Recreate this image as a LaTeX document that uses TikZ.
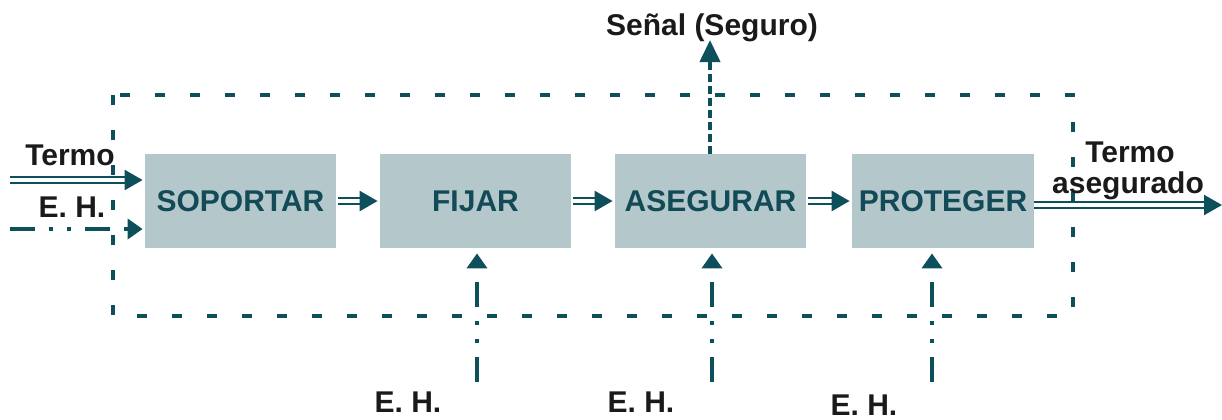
\documentclass[tikz,border=0pt]{standalone}
\usepackage{fontspec}
\setmainfont{Liberation Sans}
\usetikzlibrary{arrows.meta}
\definecolor{teal1}{HTML}{0D4F5A}
\definecolor{boxfill}{HTML}{B4C8CC}
\definecolor{boxtext}{HTML}{124B57}
\definecolor{lbltext}{HTML}{1A1A1A}
\begin{document}
\begin{tikzpicture}[x=0.5pt,y=-0.5pt,
 box/.style={fill=boxfill, draw=none, minimum height=47pt, minimum width=95.5pt, inner sep=0pt, font=\fontsize{15}{18}\selectfont\bfseries, text=boxtext},
 lbl/.style={font=\fontsize{15}{18}\selectfont\bfseries, text=lbltext, anchor=base, inner sep=0pt},
 dbl/.style={draw=teal1, double=white, double distance=1.8pt, line width=1.2pt, -{Triangle[length=9pt,width=10pt]}},
 ehline/.style={draw=teal1, line width=2pt, line cap=butt, dash pattern=on 12.5pt off 7pt on 2pt off 7pt on 2pt off 7pt, -{Triangle[length=7.5pt,width=10pt]}},
 sig/.style={draw=teal1, line width=2pt, dash pattern=on 4pt off 2pt, -{Triangle[length=11pt,width=10pt]}},
 frame/.style={draw=teal1, line width=2.2pt, dash pattern=on 5pt off 12.5pt}]
\useasboundingbox (0,0) rectangle (1222,419);
\draw[frame] (113,95) rectangle (1073,316);
% boxes
\node[box] (sop) at (240.5,201) {SOPORTAR};
\node[box] (fij) at (475.5,201) {FIJAR};
\node[box] (ase) at (710.5,201) {ASEGURAR};
\node[box, minimum width=91pt] (pro) at (943,201) {PROTEGER};
% between boxes
\draw[dbl, shorten <=1pt, shorten >=1pt] (sop.east) -- (fij.west);
\draw[dbl, shorten <=1pt, shorten >=1pt] (fij.east) -- (ase.west);
\draw[dbl, shorten <=1pt, shorten >=1pt] (ase.east) -- (pro.west);
% inputs
\coordinate (tin) at (10,180);
\coordinate (ehin) at (10,229);
\draw[dbl, shorten >=1pt] (tin) -- (tin -| sop.west);
\draw[ehline, shorten >=1pt] (ehin) -- (ehin -| sop.west);
\node[lbl] (ltermo) at (70,165) {Termo};
\node[lbl] (leh) at (72,217) {E. H.};
% output
\coordinate (tout) at (1222,205);
\draw[dbl] (tout -| pro.east) -- (tout);
\node[lbl] (rtermo) at (1130,162) {Termo};
\node[lbl] (raseg) at (1128,193) {asegurado};
% signal
\coordinate (sigtop) at (710,40);
\draw[sig] (sigtop |- ase.north) -- (sigtop);
\node[lbl] (senal) at (712,35) {Señal (Seguro)};
% bottom EH
\coordinate (eh1) at (477,382);
\coordinate (eh2) at (712,382);
\coordinate (eh3) at (932,382);
\draw[ehline, shorten >=2.5pt] (eh1) -- (eh1 |- fij.south);
\draw[ehline, shorten >=2.5pt] (eh2) -- (eh2 |- ase.south);
\draw[ehline, shorten >=2.5pt] (eh3) -- (eh3 |- pro.south);
\node[lbl] (b1) at (408,412) {E. H.};
\node[lbl] (b2) at (641,412) {E. H.};
\node[lbl] (b3) at (864,415) {E. H.};
\end{tikzpicture}
\end{document}
